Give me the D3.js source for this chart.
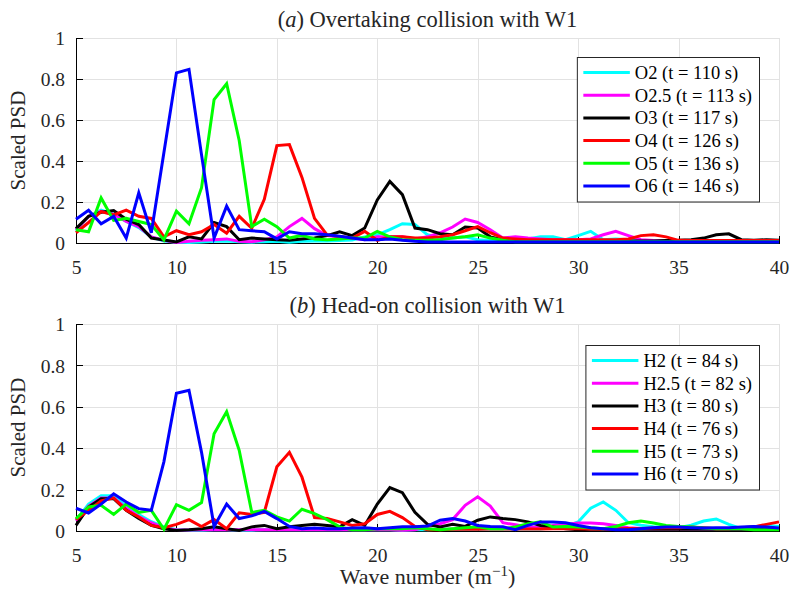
<!DOCTYPE html>
<html lang="en">
<head>
<meta charset="UTF-8">
<title>Scaled PSD - overtaking and head-on collisions</title>
<script src="https://d3js.org/d3.v7.min.js"></script>
<style>
  body { margin: 0; background: #fff; }
  svg { display: block; font-family: "Liberation Serif", "DejaVu Serif", "Times New Roman", serif; }
  .grid line { stroke: #e2e2e2; stroke-width: 1; shape-rendering: crispEdges; }
  .axis path, .axis line { stroke: #000; stroke-width: 1; shape-rendering: crispEdges; }
  .axis text { font-size: 19.5px; fill: #262626; font-family: "Liberation Serif", "DejaVu Serif", serif; }
  .series { fill: none; stroke-width: 3; stroke-linejoin: miter; }
  .title, .label { fill: #262626; }
  .legend-box { fill: #fff; stroke: #262626; stroke-width: 1; }
  .legend text { font-size: 18.5px; fill: #000; }
</style>
</head>
<body>
<svg width="791" height="591"></svg>
<script>
// wave number samples (m^-1)
const waveNumber = [5, 5.625, 6.25, 6.875, 7.5, 8.125, 8.75, 9.375, 10, 10.625,
  11.25, 11.875, 12.5, 13.125, 13.75, 14.375, 15, 15.625, 16.25, 16.875,
  17.5, 18.125, 18.75, 19.375, 20, 20.625, 21.25, 21.875, 22.5, 23.125,
  23.75, 24.375, 25, 25.625, 26.25, 26.875, 27.5, 28.125, 28.75, 29.375,
  30, 30.625, 31.25, 31.875, 32.5, 33.125, 33.75, 34.375, 35, 35.625,
  36.25, 36.875, 37.5, 38.125, 38.75, 39.375, 40];

const xTicks = [5, 10, 15, 20, 25, 30, 35, 40];
const yTicks = [0, 0.2, 0.4, 0.6, 0.8, 1];
const yTickLabels = ["0", "0.2", "0.4", "0.6", "0.8", "1"];
const seriesColors = ["#00ffff", "#ff00ff", "#000000", "#ff0000", "#00ff00", "#0000ff"];

// (a) overtaking collision
const overtakingLabels = ["O2 (t = 110 s)", "O2.5 (t = 113 s)", "O3 (t = 117 s)",
  "O4 (t = 126 s)", "O5 (t = 136 s)", "O6 (t = 146 s)"];
const o2 = [0.060, 0.130, 0.160, 0.140, 0.105, 0.075, 0.030, 0.010, 0.004, 0.003,
  0.005, 0.008, 0.010, 0.006, 0.004, 0.006, 0.008, 0.004, 0.008, 0.010,
  0.010, 0.012, 0.015, 0.030, 0.040, 0.065, 0.094, 0.090, 0.040, 0.025,
  0.025, 0.030, 0.016, 0.012, 0.012, 0.016, 0.020, 0.030, 0.030, 0.016,
  0.036, 0.057, 0.016, 0.020, 0.016, 0.012, 0.010, 0.008, 0.008, 0.008,
  0.008, 0.008, 0.008, 0.008, 0.008, 0.008, 0.008];
const o25 = [0.065, 0.130, 0.155, 0.140, 0.105, 0.080, 0.030, 0.013, 0.003, 0.008,
  0.013, 0.016, 0.020, 0.008, 0.006, 0.016, 0.030, 0.080, 0.120, 0.070,
  0.036, 0.030, 0.024, 0.016, 0.030, 0.030, 0.030, 0.020, 0.030, 0.050,
  0.078, 0.117, 0.100, 0.065, 0.024, 0.030, 0.024, 0.020, 0.016, 0.016,
  0.016, 0.020, 0.040, 0.057, 0.036, 0.016, 0.012, 0.010, 0.010, 0.010,
  0.010, 0.010, 0.010, 0.010, 0.010, 0.010, 0.010];
const o3 = [0.070, 0.130, 0.150, 0.158, 0.116, 0.090, 0.024, 0.015, 0.005, 0.030,
  0.020, 0.100, 0.080, 0.016, 0.024, 0.020, 0.016, 0.013, 0.020, 0.025,
  0.036, 0.054, 0.036, 0.073, 0.210, 0.300, 0.236, 0.073, 0.065, 0.045,
  0.040, 0.078, 0.073, 0.030, 0.016, 0.013, 0.012, 0.012, 0.012, 0.010,
  0.010, 0.010, 0.010, 0.010, 0.010, 0.010, 0.010, 0.012, 0.013, 0.016,
  0.024, 0.040, 0.045, 0.016, 0.013, 0.016, 0.013];
const o4 = [0.050, 0.100, 0.153, 0.137, 0.160, 0.130, 0.120, 0.030, 0.060, 0.040,
  0.055, 0.090, 0.048, 0.130, 0.072, 0.213, 0.475, 0.480, 0.320, 0.120,
  0.040, 0.030, 0.024, 0.057, 0.013, 0.030, 0.030, 0.024, 0.024, 0.030,
  0.040, 0.060, 0.080, 0.050, 0.024, 0.020, 0.016, 0.016, 0.016, 0.016,
  0.016, 0.016, 0.016, 0.016, 0.020, 0.036, 0.040, 0.030, 0.013, 0.012,
  0.012, 0.012, 0.012, 0.012, 0.012, 0.012, 0.012];
const o5 = [0.065, 0.055, 0.220, 0.110, 0.120, 0.105, 0.090, 0.015, 0.155, 0.094,
  0.270, 0.700, 0.777, 0.500, 0.080, 0.116, 0.080, 0.024, 0.037, 0.020,
  0.016, 0.020, 0.024, 0.024, 0.057, 0.030, 0.016, 0.013, 0.013, 0.016,
  0.024, 0.030, 0.040, 0.024, 0.013, 0.006, 0.006, 0.006, 0.006, 0.006,
  0.006, 0.006, 0.006, 0.006, 0.006, 0.006, 0.006, 0.006, 0.006, 0.006,
  0.006, 0.006, 0.006, 0.006, 0.006, 0.006, 0.006];
const o6 = [0.116, 0.160, 0.094, 0.130, 0.024, 0.245, 0.050, 0.440, 0.830, 0.847,
  0.430, 0.024, 0.180, 0.065, 0.060, 0.055, 0.020, 0.055, 0.045, 0.045,
  0.040, 0.033, 0.024, 0.016, 0.016, 0.020, 0.013, 0.008, 0.005, 0.005,
  0.005, 0.005, 0.005, 0.005, 0.005, 0.005, 0.005, 0.005, 0.005, 0.005,
  0.005, 0.005, 0.005, 0.005, 0.005, 0.005, 0.005, 0.005, 0.005, 0.005,
  0.005, 0.005, 0.005, 0.005, 0.005, 0.005, 0.005];

// (b) head-on collision
const headOnLabels = ["H2 (t = 84 s)", "H2.5 (t = 82 s)", "H3 (t = 80 s)",
  "H4 (t = 76 s)", "H5 (t = 73 s)", "H6 (t = 70 s)"];
const h2 = [0.050, 0.130, 0.170, 0.170, 0.120, 0.080, 0.045, 0.020, 0.006, 0.004,
  0.004, 0.006, 0.006, 0.004, 0.004, 0.006, 0.006, 0.006, 0.006, 0.006,
  0.006, 0.006, 0.006, 0.006, 0.006, 0.006, 0.004, 0.006, 0.006, 0.008,
  0.008, 0.008, 0.008, 0.010, 0.010, 0.010, 0.010, 0.010, 0.016, 0.022,
  0.044, 0.110, 0.140, 0.100, 0.040, 0.028, 0.020, 0.016, 0.016, 0.028,
  0.048, 0.058, 0.032, 0.011, 0.020, 0.028, 0.022];
const h25 = [0.050, 0.120, 0.160, 0.160, 0.110, 0.070, 0.040, 0.015, 0.005, 0.005,
  0.006, 0.006, 0.006, 0.006, 0.006, 0.006, 0.006, 0.006, 0.006, 0.006,
  0.006, 0.006, 0.006, 0.006, 0.006, 0.006, 0.004, 0.006, 0.020, 0.035,
  0.055, 0.124, 0.165, 0.120, 0.040, 0.030, 0.020, 0.016, 0.027, 0.032,
  0.039, 0.039, 0.035, 0.027, 0.016, 0.012, 0.010, 0.010, 0.010, 0.010,
  0.010, 0.010, 0.010, 0.010, 0.010, 0.010, 0.010];
const h3 = [0.027, 0.116, 0.156, 0.156, 0.100, 0.060, 0.027, 0.011, 0.003, 0.006,
  0.011, 0.020, 0.011, 0.003, 0.020, 0.027, 0.011, 0.020, 0.027, 0.032,
  0.027, 0.020, 0.055, 0.027, 0.130, 0.210, 0.185, 0.090, 0.032, 0.020,
  0.032, 0.022, 0.052, 0.068, 0.060, 0.055, 0.044, 0.027, 0.019, 0.011,
  0.006, 0.008, 0.008, 0.008, 0.008, 0.008, 0.008, 0.008, 0.008, 0.008,
  0.008, 0.008, 0.008, 0.008, 0.008, 0.008, 0.008];
const h4 = [0.055, 0.100, 0.145, 0.160, 0.100, 0.068, 0.027, 0.016, 0.032, 0.055,
  0.022, 0.055, 0.011, 0.088, 0.080, 0.090, 0.310, 0.380, 0.260, 0.065,
  0.060, 0.044, 0.027, 0.035, 0.080, 0.095, 0.065, 0.022, 0.006, 0.006,
  0.008, 0.008, 0.008, 0.010, 0.010, 0.010, 0.010, 0.010, 0.011, 0.011,
  0.011, 0.010, 0.010, 0.010, 0.012, 0.012, 0.014, 0.016, 0.016, 0.019,
  0.016, 0.011, 0.011, 0.016, 0.020, 0.032, 0.044];
const h5 = [0.060, 0.116, 0.124, 0.080, 0.130, 0.090, 0.100, 0.008, 0.127, 0.100,
  0.137, 0.470, 0.576, 0.390, 0.090, 0.100, 0.068, 0.048, 0.105, 0.084,
  0.055, 0.020, 0.006, 0.006, 0.011, 0.011, 0.011, 0.016, 0.011, 0.006,
  0.011, 0.016, 0.020, 0.011, 0.011, 0.020, 0.035, 0.044, 0.019, 0.022,
  0.019, 0.016, 0.011, 0.022, 0.040, 0.048, 0.039, 0.027, 0.022, 0.019,
  0.014, 0.011, 0.011, 0.011, 0.006, 0.006, 0.006];
const h6 = [0.110, 0.087, 0.130, 0.180, 0.140, 0.108, 0.100, 0.334, 0.665, 0.680,
  0.380, 0.022, 0.130, 0.060, 0.073, 0.095, 0.060, 0.022, 0.011, 0.014,
  0.011, 0.011, 0.014, 0.016, 0.011, 0.016, 0.020, 0.020, 0.024, 0.052,
  0.060, 0.048, 0.027, 0.022, 0.020, 0.006, 0.027, 0.044, 0.044, 0.040,
  0.027, 0.016, 0.011, 0.006, 0.006, 0.011, 0.016, 0.019, 0.019, 0.016,
  0.014, 0.016, 0.016, 0.019, 0.022, 0.019, 0.014];

const svg = d3.select("svg");

const left = 76, right = 779;
const x = d3.scaleLinear().domain([5, 40]).range([left, right]);

const panels = [
  { letter: "a", title: ") Overtaking collision with W1", top: 38, bottom: 243,
    labels: overtakingLabels, series: [o2, o25, o3, o4, o5, o6],
    legendRight: 759, legendTop: 57 },
  { letter: "b", title: ") Head-on collision with W1", top: 324, bottom: 531,
    labels: headOnLabels, series: [h2, h25, h3, h4, h5, h6],
    legendRight: 759, legendTop: 345 }
];

panels.forEach(p => drawPanel(p));

function drawPanel(p) {
  const y = d3.scaleLinear().domain([0, 1]).range([p.bottom, p.top]);
  const g = svg.append("g");

  // grid
  const grid = g.append("g").attr("class", "grid");
  grid.selectAll(".gx").data(xTicks).enter().append("line")
    .attr("x1", d => Math.round(x(d)) + 0.5).attr("x2", d => Math.round(x(d)) + 0.5)
    .attr("y1", p.top).attr("y2", p.bottom);
  grid.selectAll(".gy").data(yTicks).enter().append("line")
    .attr("x1", left).attr("x2", right)
    .attr("y1", d => Math.round(y(d)) + 0.5).attr("y2", d => Math.round(y(d)) + 0.5);

  // axes (box off, ticks inward)
  const xAxis = d3.axisBottom(x).tickValues(xTicks).tickSizeInner(-7).tickSizeOuter(0)
    .tickPadding(12).tickFormat(d3.format("d"));
  const yAxis = d3.axisLeft(y).tickValues(yTicks).tickSizeInner(-7).tickSizeOuter(0)
    .tickPadding(11).tickFormat((d, i) => yTickLabels[i]);

  g.append("g").attr("class", "axis")
    .attr("transform", `translate(0,${p.bottom})`).call(xAxis)
    .selectAll("text").attr("dy", "0.95em");
  g.append("g").attr("class", "axis")
    .attr("transform", `translate(${left},0)`).call(yAxis)
    .selectAll("text").attr("dy", "0.34em");

  // lines
  const line = d3.line().x((d, i) => x(waveNumber[i])).y(d => y(d));
  g.append("g").selectAll("path").data(p.series).enter().append("path")
    .attr("class", "series")
    .attr("stroke", (d, i) => seriesColors[i])
    .attr("d", line);

  // title
  const t = g.append("text").attr("class", "title")
    .attr("x", (left + right) / 2).attr("y", p.top - 11)
    .attr("text-anchor", "middle").style("font-size", "22.5px");
  t.append("tspan").text("(");
  t.append("tspan").style("font-style", "italic").text(p.letter);
  t.append("tspan").text(p.title);

  // y label
  g.append("text").attr("class", "label")
    .attr("transform", `translate(25,${(p.top + p.bottom) / 2}) rotate(-90)`)
    .attr("text-anchor", "middle").style("font-size", "21px")
    .text("Scaled PSD");

  // legend
  const lg = g.append("g").attr("class", "legend");
  const box = lg.append("rect").attr("class", "legend-box");
  const rowH = 22.7;
  const items = lg.selectAll(".item").data(p.labels).enter().append("g")
    .attr("transform", (d, i) => `translate(0,${p.legendTop + 15.5 + i * rowH})`);
  const texts = items.append("text").attr("dy", "0.35em").text(d => d);
  const maxW = d3.max(texts.nodes(), n => n.getComputedTextLength());
  const boxW = 6.5 + 46.5 + 5 + maxW + 7;
  const bx = p.legendRight - boxW;
  box.attr("x", bx + 0.5).attr("y", p.legendTop + 0.5)
    .attr("width", boxW).attr("height", 15.5 * 2 + rowH * 5);
  items.append("line")
    .attr("x1", bx + 6.5).attr("x2", bx + 53)
    .attr("y1", 0).attr("y2", 0)
    .attr("stroke", (d, i) => seriesColors[i]).attr("stroke-width", 3);
  texts.attr("x", bx + 58);
}

// x label
const xl = svg.append("text").attr("class", "label")
  .attr("x", (left + right) / 2).attr("y", 584)
  .attr("text-anchor", "middle").style("font-size", "22px");
xl.append("tspan").text("Wave number (m");
xl.append("tspan").attr("dy", -8).style("font-size", "15px").text("\u22121");
xl.append("tspan").attr("dy", 8).text(")");
</script>
</body>
</html>
